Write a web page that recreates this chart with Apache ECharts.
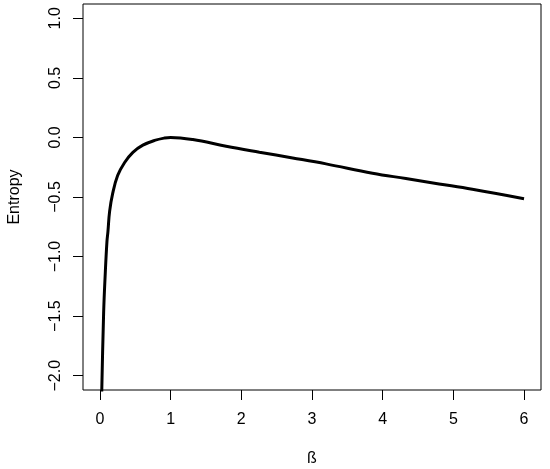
<!DOCTYPE html>
<html>
<head>
<meta charset="utf-8">
<script src="https://cdn.jsdelivr.net/npm/echarts@6/dist/echarts.min.js"></script>
<style>html,body{margin:0;padding:0;background:#fff}#c{width:550px;height:469px}</style>
</head>
<body>
<div id="c"></div>
<script>
var betaValues = [0.02, 0.025, 0.052, 0.076, 0.099, 0.113, 0.137, 0.18, 0.25, 0.349, 0.466, 0.607, 0.773, 0.914, 1.0, 1.314, 1.785, 2.256, 2.726, 3.198, 3.856, 4.328, 4.798, 5.268, 6.0];
var entropyValues = [-2.3, -2.14, -1.47, -1.127, -0.873, -0.788, -0.619, -0.47, -0.32, -0.21, -0.125, -0.065, -0.025, -0.005, 0.0, -0.018, -0.074, -0.124, -0.172, -0.222, -0.30, -0.345, -0.39, -0.435, -0.514];
var xTicks = [0, 1, 2, 3, 4, 5, 6];
var yTicks = [-2.0, -1.5, -1.0, -0.5, 0.0, 0.5, 1.0];

var data = betaValues.map(function (b, i) { return [b, entropyValues[i]]; });
var font = 'Liberation Sans, Arial, sans-serif';
var chart = echarts.init(document.getElementById('c'), null, {renderer: 'canvas'});
chart.setOption({
  animation: false,
  backgroundColor: '#fff',
  grid: {left: 83, top: 4, right: 9, bottom: 79, outerBoundsMode: 'none', containLabel: false,
    show: true, borderColor: '#000', borderWidth: 1, backgroundColor: 'transparent'},
  xAxis: {
    type: 'value', min: -0.24, max: 6.24,
    name: 'ß', nameLocation: 'middle', nameGap: 61,
    nameTextStyle: {fontFamily: font, fontSize: 16, color: '#000'},
    axisLine: {show: false, onZero: false},
    splitLine: {show: false},
    axisTick: {show: true, length: 10, inside: false, customValues: xTicks, lineStyle: {color: '#000', width: 1}},
    axisLabel: {customValues: xTicks, margin: 22, fontFamily: font, fontSize: 16, color: '#000',
      formatter: function (v) { return String(v); }}
  },
  yAxis: {
    type: 'value', min: -2.12, max: 1.12,
    name: 'Entropy', nameLocation: 'middle', nameGap: 60,
    nameTextStyle: {fontFamily: font, fontSize: 16, color: '#000'},
    axisLine: {show: false, onZero: false},
    splitLine: {show: false},
    axisTick: {show: true, length: 10, inside: false, customValues: yTicks, lineStyle: {color: '#000', width: 1}},
    axisLabel: {customValues: yTicks, rotate: 90, margin: 19, fontFamily: font, fontSize: 16, color: '#000',
      formatter: function (v) { return v.toFixed(1).replace('-', '\u2212'); }}
  },
  series: [{
    type: 'line', data: data, showSymbol: false, smooth: 0.4, clip: true,
    lineStyle: {color: '#000', width: 3}
  }]
});
</script>
</body>
</html>
